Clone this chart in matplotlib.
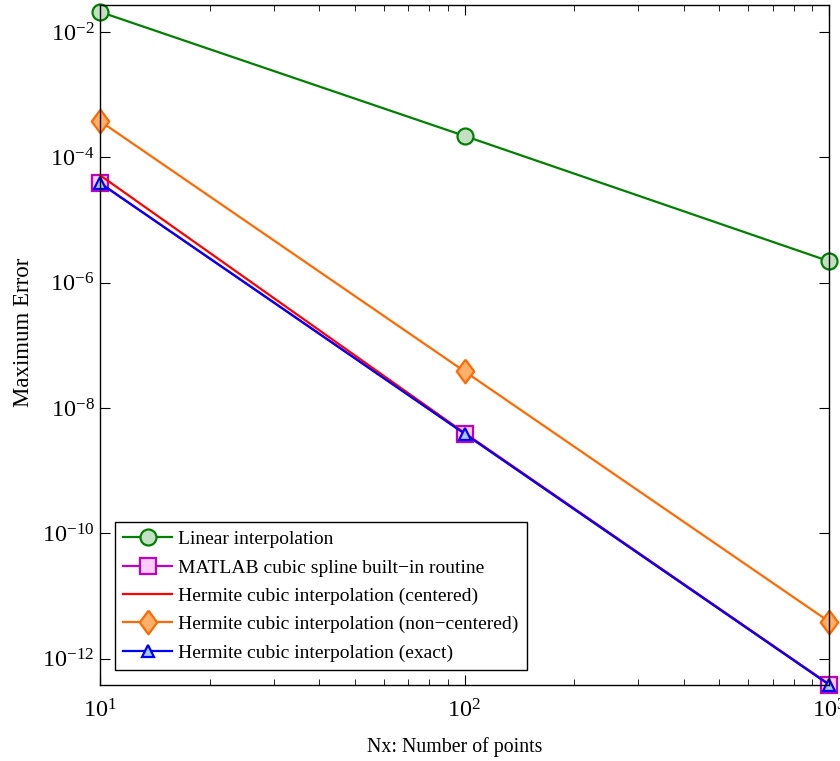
import matplotlib
matplotlib.use("Agg")
import matplotlib.pyplot as plt
import numpy as np

plt.rcParams['font.family'] = ['Liberation Serif', 'DejaVu Serif']
plt.rcParams['mathtext.fontset'] = 'stix'

nx = [10, 100, 1000]
err_linear = [2.1e-2, 2.2e-4, 2.2e-6]
err_spline = [3.9e-5, 3.9e-9, 3.85e-13]
err_centered = [5.2e-5, 4.0e-9, 3.9e-13]
err_noncentered = [3.8e-4, 3.85e-8, 3.9e-12]
err_exact = [3.9e-5, 3.9e-9, 3.85e-13]

# wider diamond like MATLAB's
diamond = [(0, 1), (0.74, 0), (0, -1), (-0.74, 0), (0, 1)]

fig = plt.figure(figsize=(8.4, 7.61), dpi=100)
ax = fig.add_axes([0.119, 0.0999, 0.868, 0.8935])

lw = 1.6
ax.loglog(nx, err_linear, '-o', color='#008000', mfc='#c4dfc4', mec='#008000',
          ms=11.5, mew=1.6, lw=lw, label='Linear interpolation', clip_on=False)
ax.loglog(nx, err_spline, '-s', color='#c000c0', mfc='#ffccff', mec='#c000c0',
          ms=11, mew=1.6, lw=lw, label='MATLAB cubic spline built\u2212in routine', clip_on=False)
ax.loglog(nx, err_centered, '-', color='#ff0000', lw=lw,
          label='Hermite cubic interpolation (centered)', clip_on=False)
ax.loglog(nx, err_noncentered, '-', marker=diamond, color='#ff6a00', mfc='#ffb06a', mec='#ff6a00',
          ms=17, mew=1.6, lw=lw, label='Hermite cubic interpolation (non\u2212centered)', clip_on=False)
ax.loglog(nx, err_exact, '-^', color='#0000ff', mfc='#a8c8ec', mec='#0000ff',
          ms=9, mew=1.6, lw=lw, label='Hermite cubic interpolation (exact)', clip_on=False)

ax.set_xlim(10, 1000)
ax.set_ylim(3.8e-13, 2.7e-2)
ax.set_yticks([1e-12, 1e-10, 1e-8, 1e-6, 1e-4, 1e-2])
ax.yaxis.set_minor_locator(matplotlib.ticker.NullLocator())
ax.tick_params(which='both', direction='in', top=True, right=True, labelsize=17.5)
ax.tick_params(which='major', length=7)
ax.tick_params(axis='y', which='major', pad=4)
ax.tick_params(axis='x', which='major', pad=10)
ax.tick_params(which='minor', length=4)
for s in ax.spines.values():
    s.set_linewidth(1.0)

ax.set_xlabel('Nx: Number of points', fontsize=14.3)
ax.set_ylabel('Maximum Error', fontsize=16.5)
ax.xaxis.set_label_coords(0.487, -0.0765)
ax.yaxis.set_label_coords(-0.091, 0.519)

leg = ax.legend(loc='lower left', fontsize=14.0, fancybox=False, edgecolor='black',
                framealpha=1, borderaxespad=0.75, handlelength=2.5, handletextpad=0.3,
                labelspacing=0.55, borderpad=0.45)
leg.get_frame().set_linewidth(1.0)

fig.savefig('out.png', dpi=100)
